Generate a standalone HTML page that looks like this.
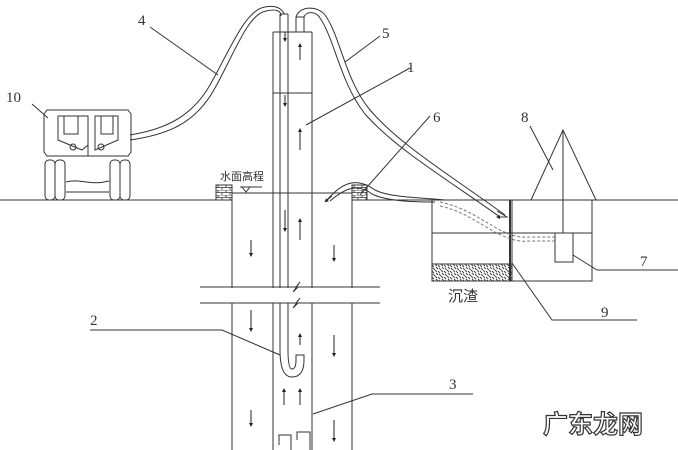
<!DOCTYPE html>
<html><head><meta charset="utf-8"><style>
html,body{margin:0;padding:0;background:#fff;}
svg{display:block;}
text{font-family:"Liberation Serif","Noto Sans CJK SC",serif;fill:#333;}
</style></head><body>
<svg width="678" height="450" viewBox="0 0 678 450" xmlns="http://www.w3.org/2000/svg">
<defs>
<pattern id="brick" width="8" height="5" patternUnits="userSpaceOnUse">
<rect width="8" height="5" fill="#fff"/><path d="M0 0H8M0 2.5H8M2 0V2.5M6 2.5V5" stroke="#333" stroke-width="0.8"/>
</pattern>
<pattern id="grav" width="6" height="6" patternUnits="userSpaceOnUse">
<rect width="6" height="6" fill="#fff"/><path d="M0 1L2 3M3 0L5 2M1 4L3 6M4 3L6 5" stroke="#444" stroke-width="1"/>
</pattern>
<marker id="ar" viewBox="0 0 6 6" refX="3" refY="3" markerWidth="4" markerHeight="4" orient="auto"><path d="M0 0L6 3L0 6z" fill="#222"/></marker>
</defs>
<g stroke="#333" stroke-width="1" fill="none">
<path d="M0 200H232M352 200H678"/>
<path d="M232 193H352"/>
<path d="M232 200V450M352 200V450"/>
<path d="M273 32V450M312 32V450"/>
<path d="M273 32H312M273 93H312"/>
<path d="M280 14V350M288 14V350M280 14H288"/>
<path d="M280 350 Q280 377 292 377 Q304 377 304 360 L304 355 L296 355 L296 360 Q296 369 292 369 Q288 369 288 350"/>
<path d="M296 17V32M304 17V32M296 17H304"/>
<rect x="200" y="288" width="180" height="15" fill="#fff" stroke="none"/>
<path d="M200 287H296L300 282L293 292L298 287H380M200 303H296L300 298L293 308L298 303H380"/>
<rect x="216" y="185" width="16" height="15" fill="url(#brick)"/>
<rect x="352" y="185" width="15" height="15" fill="url(#brick)"/>
<path d="M240 187H262M242 187L246 192L250 187"/>
<path d="M432 200V281H592V200M512 200V281"/>
<path d="M432 233H592"/>
<rect x="432" y="264" width="80" height="17" fill="url(#grav)"/>
<path d="M510 200V281" stroke-width="2"/>
<path d="M531 200L563 130L596 200M563 130V233"/>
<rect x="555" y="233" width="18" height="29"/>
<path d="M130 135 C160 130 190 120 210 85 C230 50 245 10 265 7 C275 5 282 8 284 14"/>
<path d="M130 140 C165 135 195 125 215 88 C235 52 248 14 266 11 C275 9 281 10 281 16"/>
<path d="M296 17 C300 5 318 6 325 15 C340 35 345 80 370 110 C400 145 450 175 505 215"/>
<path d="M304 17 C306 11 316 11 320 18 C335 40 340 82 365 114 C395 148 445 178 500 217"/>
<path d="M497 211L507 217L498 217" marker-end="url(#ar)"/>
<path d="M327 200 C340 185 355 175 375 190 C390 198 430 198 445 200"/>
<path d="M330 201 C343 190 356 182 372 194 C388 202 420 202 435 202"/>
<path d="M332 196L326 201" marker-end="url(#ar)"/>
<path d="M440 202 C480 210 500 240 530 237 L555 237M440 206 C478 214 498 244 530 241 L555 241" stroke-dasharray="3,2" stroke="#777"/>
<path d="M47 110H128L131 114V152L128 156H47L44 152V114Z"/>
<path d="M58 116H88V145L82 150L58 140ZM95 116H118V140L95 150Z"/>
<path d="M64 116V134H78V116M101 116V134H113V116M88 116V156"/>
<circle cx="73" cy="147" r="3"/><circle cx="101" cy="147" r="3"/>
<rect x="45" y="160" width="10" height="40" rx="4"/><rect x="55" y="160" width="10" height="40" rx="4"/>
<rect x="110" y="160" width="10" height="40" rx="4"/><rect x="120" y="160" width="10" height="40" rx="4"/>
<path d="M66 182 C80 178 90 186 109 181M66 192H109"/>
<path d="M150 27L218 75M32 104L48 118M380 36L345 62M410 68L306 125M430 116L360 195M530 126L553 170"/>
<path d="M90 330H222L280 355"/>
<path d="M313 414L372 394H473"/>
<path d="M512 263L552 320H637"/>
<path d="M573 255L597 270H678"/>
</g>
<g stroke="#222" stroke-width="1" marker-end="url(#ar)">
<path d="M285 32V40"/><path d="M285 95V105"/><path d="M285 210V230"/>
<path d="M300 60V45"/><path d="M300 150V130"/><path d="M300 240V220"/>
<path d="M251 240V255"/><path d="M334 245V260"/>
<path d="M251 310V330"/><path d="M334 335V355"/><path d="M251 410V425"/><path d="M334 420V440"/>
<path d="M300 345V335"/><path d="M284 405V390"/><path d="M300 405V390"/>
</g>
<path d="M279 445V435H291V450M297 440V432H310V450" stroke="#333" fill="none"/>
<g font-size="15">
<text x="138" y="25">4</text>
<text x="6" y="102">10</text>
<text x="382" y="38">5</text>
<text x="407" y="72">1</text>
<text x="433" y="122">6</text>
<text x="521" y="122">8</text>
<text x="90" y="325">2</text>
<text x="449" y="389">3</text>
<text x="601" y="317">9</text>
<text x="640" y="266">7</text>
</g>
<text x="220" y="180" font-size="11" font-family="Liberation Sans,Noto Sans CJK SC,sans-serif">水面高程</text>
<text x="448" y="301" font-size="15" font-family="Liberation Sans,Noto Sans CJK SC,sans-serif">沉渣</text>
<text x="543" y="433" font-size="25" font-weight="bold" font-family="Liberation Sans,Noto Sans CJK SC,sans-serif" style="fill:#fff;stroke:#333;stroke-width:1.2">广东龙网</text>
</svg>
</body></html>
